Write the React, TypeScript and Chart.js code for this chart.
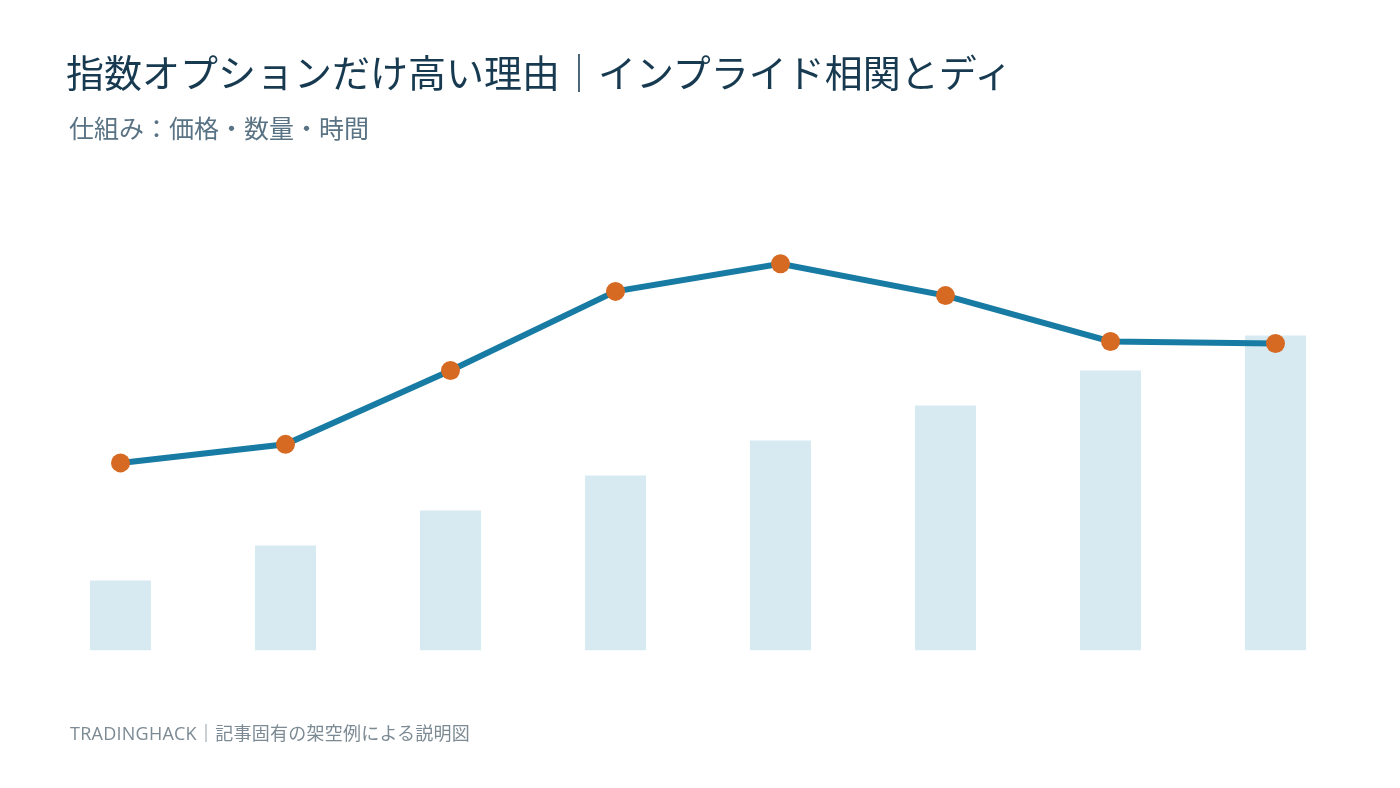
import React, { useEffect, useRef } from "react";
import { Chart, registerables } from "chart.js";

Chart.register(...registerables);

const categories = ["1", "2", "3", "4", "5", "6", "7", "8"];
const barValues = [2, 3, 4, 5, 6, 7, 8, 9];
const lineValues = [5.36, 5.89, 8.0, 10.26, 11.05, 10.14, 8.83, 8.77];

const titleText = "指数オプションだけ高い理由｜インプライド相関とディ";
const subtitleText = "仕組み：価格・数量・時間";
const footerText = "TRADINGHACK｜記事固有の架空例による説明図";

const FONT = '"Noto Sans CJK JP", "Noto Sans", sans-serif';

export default function App() {
  const canvasRef = useRef<HTMLCanvasElement | null>(null);

  useEffect(() => {
    if (!canvasRef.current) return;
    const chart = new Chart(canvasRef.current, {
      type: "bar",
      data: {
        labels: categories,
        datasets: [
          {
            type: "line",
            data: lineValues,
            borderColor: "#177ba3",
            borderWidth: 6,
            tension: 0,
            pointRadius: 9.5,
            pointBackgroundColor: "#d66a22",
            pointBorderWidth: 0,
            pointHoverRadius: 9.5,
            order: 0,
            clip: false,
          } as any,
          {
            type: "bar",
            data: barValues,
            backgroundColor: "#d7e9f1",
            barPercentage: 0.37,
            categoryPercentage: 1,
            order: 1,
          },
        ],
      },
      options: {
        responsive: false,
        animation: false,
        layout: { padding: { left: 38, right: 42, top: 160.5, bottom: 137.5 } },
        plugins: {
          legend: { display: false },
          tooltip: { enabled: false },
          title: { display: false },
        },
        scales: {
          x: { display: false, offset: true },
          y: { display: false, min: 0, max: 14 },
        },
      },
    });
    return () => chart.destroy();
  }, []);

  return (
    <div
      style={{
        position: "absolute",
        left: 0,
        top: 0,
        width: 1400,
        height: 788,
        background: "#ffffff",
        fontFamily: FONT,
        overflow: "hidden",
      }}
    >
      <canvas
        ref={canvasRef}
        width={1400}
        height={788}
        style={{ position: "absolute", left: 0, top: 0, width: 1400, height: 788 }}
      />
      <div
        style={{
          position: "absolute",
          left: 66,
          top: 47,
          fontSize: 38,
          lineHeight: "48px",
          color: "#173a50",
          whiteSpace: "nowrap",
        }}
      >
        {titleText}
      </div>
      <div
        style={{
          position: "absolute",
          left: 69,
          top: 111,
          fontSize: 25,
          lineHeight: "32px",
          color: "#5a7384",
          whiteSpace: "nowrap",
        }}
      >
        {subtitleText}
      </div>
      <div
        style={{
          position: "absolute",
          left: 70,
          top: 720,
          fontSize: 18,
          lineHeight: "26px",
          color: "#7c8a94",
          whiteSpace: "nowrap",
          letterSpacing: "0.25px",
          fontFamily: '"Open Sans", "Noto Sans CJK JP", sans-serif',
        }}
      >
        {footerText}
      </div>
    </div>
  );
}
